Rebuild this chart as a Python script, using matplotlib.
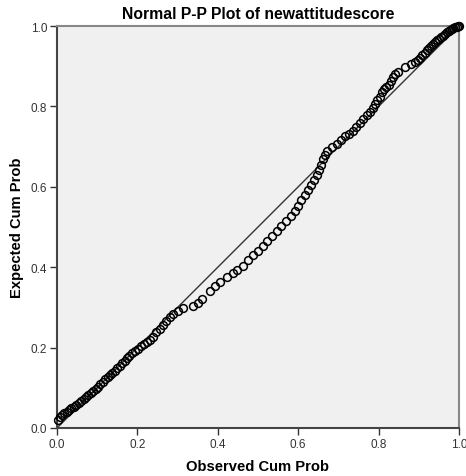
import matplotlib
matplotlib.use("Agg")
import matplotlib.pyplot as plt

plt.rcParams['font.family'] = ['Liberation Sans', 'DejaVu Sans']

title = "Normal P-P Plot of newattitudescore"
xlabel = "Observed Cum Prob"
ylabel = "Expected Cum Prob"
ticks = [0.0, 0.2, 0.4, 0.6, 0.8, 1.0]
tick_labels = ["0.0", "0.2", "0.4", "0.6", "0.8", "1.0"]

observed = [
    0.003, 0.008, 0.013, 0.018, 0.024, 0.030, 0.036, 0.042, 0.048, 0.054,
    0.060, 0.066, 0.072, 0.078, 0.084, 0.090, 0.096, 0.102, 0.108, 0.114,
    0.120, 0.126, 0.132, 0.138, 0.144, 0.150, 0.156, 0.162, 0.168, 0.174,
    0.180, 0.187, 0.194, 0.201, 0.208, 0.216, 0.224, 0.232, 0.240, 0.247,
    0.255, 0.264, 0.272, 0.280, 0.289, 0.300, 0.313, 0.338, 0.350, 0.361,
    0.381, 0.393, 0.405, 0.423, 0.437, 0.448, 0.463, 0.475, 0.488, 0.500,
    0.512, 0.523, 0.535, 0.547, 0.558, 0.570, 0.582, 0.592, 0.600, 0.608,
    0.616, 0.624, 0.632, 0.640, 0.646, 0.652, 0.657, 0.662, 0.666, 0.672,
    0.684, 0.697, 0.707, 0.716, 0.726, 0.736, 0.745, 0.754, 0.762, 0.770,
    0.778, 0.785, 0.791, 0.797, 0.803, 0.808, 0.813, 0.819, 0.825, 0.830,
    0.836, 0.842, 0.848,
    0.866, 0.880, 0.890, 0.897, 0.903, 0.909, 0.915, 0.920, 0.925, 0.930,
    0.935, 0.940, 0.945, 0.950, 0.955, 0.960, 0.965, 0.970, 0.974, 0.978,
    0.982, 0.986, 0.990, 0.994, 0.997, 1.000,
]
expected = [
    0.020, 0.027, 0.033, 0.037, 0.041, 0.045, 0.049, 0.053, 0.058, 0.063,
    0.068, 0.073, 0.077, 0.081, 0.086, 0.091, 0.097, 0.103, 0.109, 0.115,
    0.121, 0.127, 0.132, 0.137, 0.143, 0.149, 0.155, 0.161, 0.167, 0.173,
    0.180, 0.186, 0.191, 0.197, 0.203, 0.208, 0.213, 0.219, 0.227, 0.238,
    0.247, 0.256, 0.266, 0.275, 0.283, 0.290, 0.298, 0.303, 0.312, 0.322,
    0.341, 0.352, 0.363, 0.376, 0.385, 0.392, 0.404, 0.417, 0.430, 0.441,
    0.453, 0.466, 0.478, 0.490, 0.502, 0.514, 0.527, 0.540, 0.553, 0.567,
    0.580, 0.593, 0.605, 0.618, 0.630, 0.642, 0.655, 0.668, 0.680, 0.690,
    0.700, 0.707, 0.717, 0.726, 0.732, 0.739, 0.748, 0.759, 0.768, 0.778,
    0.787, 0.797, 0.806, 0.815, 0.824, 0.835, 0.843, 0.848, 0.853, 0.862,
    0.872, 0.880, 0.886,
    0.898, 0.905, 0.911, 0.915, 0.921, 0.928, 0.934, 0.940, 0.945, 0.950,
    0.955, 0.960, 0.964, 0.968, 0.972, 0.976, 0.980, 0.984, 0.987, 0.990,
    0.993, 0.995, 0.997, 0.998, 0.999, 1.000,
]
ref_line = [0.0, 1.0]

fig = plt.figure(figsize=(4.66, 4.77), dpi=100)
fig.patch.set_facecolor('white')
ax = fig.add_axes([57/466, 48/477, 402/466, 402/477])
ax.set_facecolor('#f0f0f0')

ax.plot(ref_line, ref_line, color='#333333', lw=1.0, zorder=2)
ax.plot(observed, expected, linestyle='none', marker='o', markersize=5.6,
        markerfacecolor='none', markeredgecolor='black', markeredgewidth=1.1,
        zorder=3, clip_on=False)

ax.set_xlim(0, 1)
ax.set_ylim(0, 1)
ax.set_xticks(ticks)
ax.set_xticklabels(tick_labels)
ax.set_yticks(ticks)
ax.set_yticklabels(tick_labels)
ax.tick_params(direction='out', length=5, width=1, color='#333333',
               labelsize=8.5, labelcolor='#333333', pad=2)

for side in ['left', 'bottom']:
    ax.spines[side].set_color('#444444')
    ax.spines[side].set_linewidth(1.5)
for side in ['top', 'right']:
    ax.spines[side].set_color('#888888')
    ax.spines[side].set_linewidth(1.5)

ax.set_title(title, fontsize=11.3, fontweight='bold', pad=6)
ax.set_xlabel(xlabel, fontsize=10.6, fontweight='bold', labelpad=7)
ax.set_ylabel(ylabel, fontsize=10.6, fontweight='bold', labelpad=5)

fig.savefig('out.png', dpi=100, facecolor='white')
